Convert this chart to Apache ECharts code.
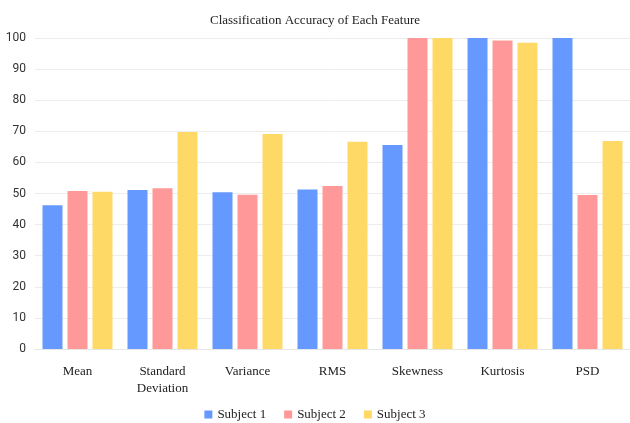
<!DOCTYPE html>
<html>
<head>
<meta charset="utf-8">
<script src="https://cdn.jsdelivr.net/npm/echarts@6/dist/echarts.min.js"></script>
<style>
  html, body { margin: 0; padding: 0; background: #fff; }
  #chart { width: 630px; height: 423px; }
</style>
</head>
<body>
<div id="chart"></div>
<script>
// Feature names along the x axis
const features = ['Mean', 'Standard\nDeviation', 'Variance', 'RMS', 'Skewness', 'Kurtosis', 'PSD'];

// Classification accuracy (%) per subject
const subject1 = [46.2, 51.1, 50.4, 51.3, 65.6, 100, 100];
const subject2 = [50.8, 51.7, 49.6, 52.4, 100, 99.2, 49.5];
const subject3 = [50.6, 69.8, 69.1, 66.6, 100, 98.5, 66.9];

const seriesNames = ['Subject 1', 'Subject 2', 'Subject 3'];
const seriesColors = ['#6699ff', '#ff9999', '#ffd966'];
const seriesData = [subject1, subject2, subject3];

const serif = '"Liberation Serif", "Times New Roman", serif';

const chart = echarts.init(document.getElementById('chart'), null, { renderer: 'canvas' });

chart.setOption({
  animation: false,
  backgroundColor: '#ffffff',
  title: {
    text: 'Classification Accuracy of Each Feature',
    left: 'center',
    top: 9,
    textStyle: { fontFamily: serif, fontSize: 13, fontWeight: 'normal', color: '#222' }
  },
  legend: {
    bottom: -3,
    left: 'center',
    itemWidth: 8,
    itemHeight: 8,
    itemGap: 18,
    icon: 'rect',
    textStyle: { fontFamily: serif, fontSize: 13, color: '#222' },
    data: seriesNames
  },
  grid: { left: 35, top: 38, width: 598, height: 311, containLabel: false },
  xAxis: {
    type: 'category',
    data: features,
    axisTick: { show: false },
    axisLine: { show: true, lineStyle: { color: '#e6e6e6' } },
    axisLabel: {
      fontFamily: serif, fontSize: 13, color: '#222',
      margin: 14, lineHeight: 17, interval: 0
    }
  },
  yAxis: {
    type: 'value',
    min: 0,
    max: 100,
    interval: 10,
    axisLine: { show: false },
    axisTick: { show: false },
    splitLine: { lineStyle: { color: '#ececec', width: 1 } },
    axisLabel: { fontFamily: 'Roboto, "Noto Sans", sans-serif', fontSize: 12, color: '#333', margin: 9 }
  },
  series: seriesNames.map((name, i) => ({
    name: name,
    type: 'bar',
    data: seriesData[i],
    barWidth: 20,
    barGap: '25%',
    itemStyle: { color: seriesColors[i] }
  }))
});
</script>
</body>
</html>
